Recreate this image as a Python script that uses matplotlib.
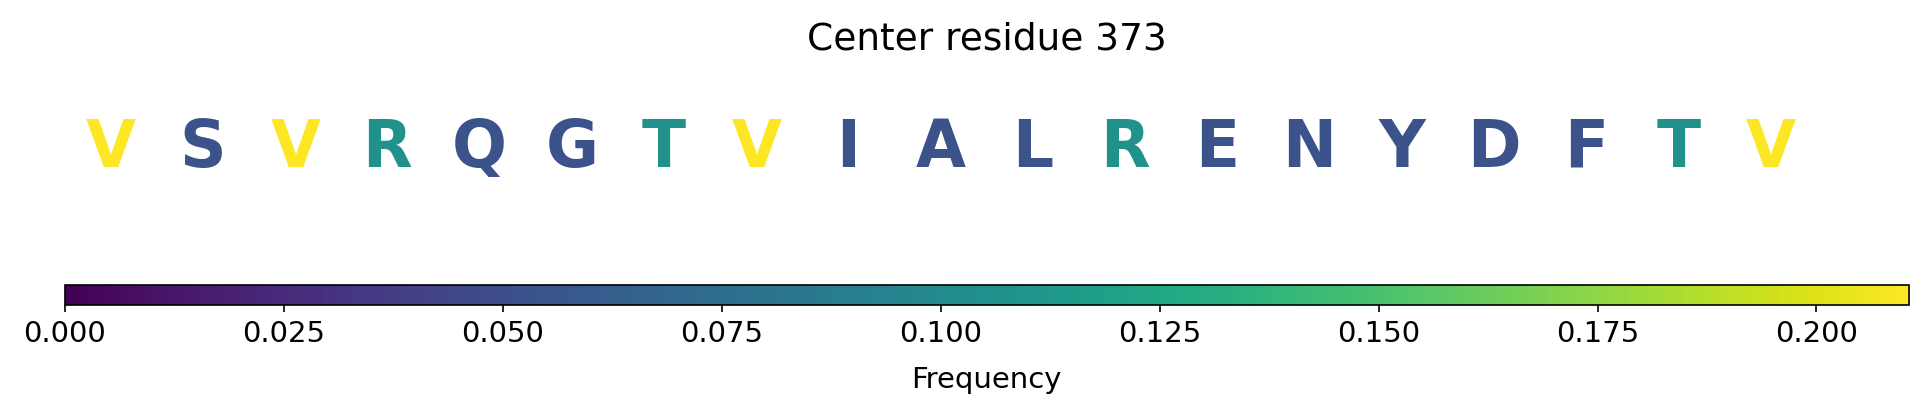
import matplotlib
matplotlib.use("Agg")
import matplotlib.pyplot as plt
import numpy as np
from matplotlib import cm, colors

# --- Données ---
residues = ["V", "S", "V", "R", "Q", "G", "T", "V", "I", "A",
            "L", "R", "E", "N", "Y", "D", "F", "T", "V"]
# fréquence de chaque résidu dans la fenêtre (19 positions)
frequencies = [4/19, 1/19, 4/19, 2/19, 1/19, 1/19, 2/19, 4/19, 1/19, 1/19,
               1/19, 2/19, 1/19, 1/19, 1/19, 1/19, 1/19, 2/19, 4/19]
center = 373

fig = plt.figure(figsize=(1927/150, 416/150), dpi=150)

norm = colors.Normalize(vmin=0, vmax=max(frequencies))
cmap = plt.get_cmap("viridis")

# --- Lettres ---
ax = fig.add_axes([64.7/1927, 1 - 230/416, 1844/1927, 168/416])
ax.set_xlim(-0.5, len(residues) + 0.5)
ax.set_ylim(0, 1)
ax.axis("off")
for i, (res, f) in enumerate(zip(residues, frequencies)):
    ax.text(i, 0.377, res, ha="center", va="baseline", fontsize=31,
            fontweight="bold", color=cmap(norm(f)))
ax.set_title(f"Center residue {center}", fontsize=18, pad=6)

# --- Barre de couleur ---
cax = fig.add_axes([64.7/1927, 1 - 305/416, 1844/1927, 20/416])
sm = cm.ScalarMappable(norm=norm, cmap=cmap)
cb = fig.colorbar(sm, cax=cax, orientation="horizontal")
cb.set_label("Frequency", fontsize=14, labelpad=9)
cb.ax.tick_params(labelsize=14)

fig.savefig("out.png", dpi=150)
